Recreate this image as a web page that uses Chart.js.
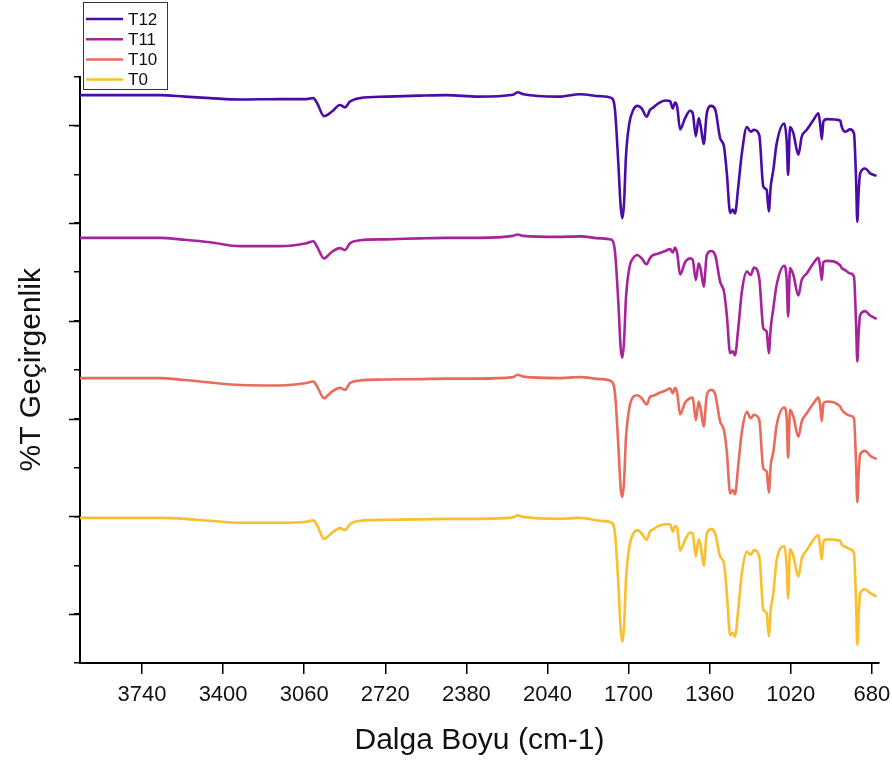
<!DOCTYPE html>
<html>
<head>
<meta charset="utf-8">
<title>FTIR</title>
<script src="https://cdn.jsdelivr.net/npm/chart.js@4.4.1/dist/chart.umd.min.js"></script>
<style>
  html, body { margin: 0; padding: 0; background: #fff; }
  #wrap { width: 892px; height: 763px; }
</style>
</head>
<body>
<div id="wrap"><canvas id="ftirChart" width="892" height="763"></canvas></div>
<script>
// wavenumber (cm-1), shared by all four spectra
const wavenumbers = [
  4000, 3665, 3560, 3455, 3329, 3161, 3050, 3022, 3005, 2977,
  2945, 2910, 2889, 2868, 2826, 2714, 2574, 2462, 2331, 2184,
  2166, 2141, 1996, 1903, 1820,
  1771, 1757, 1743, 1733, 1726, 1719, 1711, 1697, 1680, 1663,
  1645, 1624, 1610, 1596, 1575, 1547, 1526, 1515, 1505, 1496,
  1484, 1463, 1442, 1431, 1418, 1406, 1397, 1385, 1372, 1354,
  1337, 1316, 1300, 1288, 1274, 1263, 1254, 1240, 1225, 1204,
  1188, 1174, 1152, 1135, 1121, 1112, 1104, 1093, 1079, 1047,
  1037, 1031, 1023, 1009, 988, 974, 953, 925, 904, 897,
  890, 883, 869, 813, 806, 792, 771, 755, 746, 741,
  735, 729, 708, 687, 660
];

// %T, stacked (arbitrary units)
const t12 = [
  11.62, 11.62, 11.59, 11.56, 11.53, 11.54, 11.54, 11.56, 11.45, 11.19,
  11.28, 11.42, 11.37, 11.49, 11.56, 11.59, 11.61, 11.62, 11.59, 11.63,
  11.68, 11.64, 11.59, 11.64, 11.60,
  11.56, 11.32, 10.23, 9.34, 9.10, 9.41, 10.36, 11.04, 11.32, 11.40,
  11.35, 11.18, 11.32, 11.37, 11.45, 11.51, 11.50, 11.35, 11.47, 11.38,
  10.92, 11.15, 11.30, 11.25, 10.78, 11.15, 10.97, 10.62, 11.25, 11.40,
  11.33, 10.74, 10.57, 10.02, 9.21, 9.28, 9.20, 9.75, 10.43, 10.97,
  10.87, 10.91, 10.80, 9.75, 9.68, 9.24, 9.75, 10.09, 10.63, 11.04,
  10.67, 9.99, 10.97, 10.84, 10.40, 10.77, 10.91, 11.11, 11.25, 11.04,
  10.72, 11.08, 11.13, 11.10, 10.97, 10.87, 10.92, 10.84, 9.88, 9.03,
  9.68, 10.02, 10.12, 10.02, 9.97
];
const t11 = [
  8.70, 8.70, 8.66, 8.61, 8.53, 8.53, 8.59, 8.63, 8.51, 8.28,
  8.41, 8.49, 8.45, 8.59, 8.65, 8.67, 8.69, 8.70, 8.70, 8.74,
  8.77, 8.74, 8.72, 8.73, 8.69,
  8.66, 8.42, 7.39, 6.44, 6.25, 6.58, 7.46, 8.08, 8.29, 8.35,
  8.28, 8.16, 8.29, 8.35, 8.38, 8.43, 8.47, 8.40, 8.50, 8.38,
  7.95, 8.20, 8.28, 8.25, 7.84, 8.18, 8.04, 7.70, 8.35, 8.43,
  8.35, 7.80, 7.60, 7.12, 6.34, 6.38, 6.30, 6.85, 7.60, 8.01,
  7.94, 8.09, 7.87, 6.85, 6.78, 6.34, 6.85, 7.26, 7.74, 8.13,
  7.84, 7.09, 8.08, 7.94, 7.52, 7.84, 7.97, 8.18, 8.29, 8.11,
  7.84, 8.20, 8.23, 8.14, 8.08, 8.04, 7.97, 7.91, 6.92, 6.17,
  6.78, 7.12, 7.20, 7.11, 7.04
];
const t10 = [
  5.83, 5.83, 5.79, 5.74, 5.69, 5.68, 5.73, 5.76, 5.65, 5.42,
  5.55, 5.63, 5.59, 5.73, 5.78, 5.80, 5.81, 5.82, 5.82, 5.85,
  5.90, 5.86, 5.83, 5.85, 5.81,
  5.76, 5.52, 4.46, 3.57, 3.40, 3.71, 4.60, 5.21, 5.45, 5.48,
  5.42, 5.29, 5.45, 5.47, 5.52, 5.57, 5.62, 5.52, 5.63, 5.52,
  5.09, 5.33, 5.42, 5.43, 4.97, 5.35, 5.18, 4.84, 5.48, 5.59,
  5.50, 4.94, 4.77, 4.32, 3.47, 3.54, 3.45, 4.05, 4.73, 5.14,
  5.01, 5.08, 4.97, 3.98, 3.92, 3.49, 4.05, 4.32, 4.87, 5.23,
  5.01, 4.20, 5.18, 5.04, 4.63, 4.94, 5.11, 5.31, 5.43, 5.28,
  4.95, 5.31, 5.35, 5.25, 5.18, 5.11, 5.06, 5.01, 4.05, 3.29,
  3.92, 4.27, 4.34, 4.24, 4.17
];
const t0 = [
  2.97, 2.97, 2.95, 2.91, 2.87, 2.87, 2.89, 2.92, 2.81, 2.54,
  2.66, 2.76, 2.72, 2.84, 2.91, 2.93, 2.94, 2.95, 2.95, 2.98,
  3.02, 2.99, 2.95, 2.97, 2.91,
  2.87, 2.65, 1.63, 0.68, 0.44, 0.74, 1.70, 2.38, 2.65, 2.72,
  2.65, 2.52, 2.69, 2.74, 2.80, 2.84, 2.84, 2.69, 2.80, 2.76,
  2.30, 2.52, 2.67, 2.65, 2.18, 2.53, 2.38, 1.99, 2.65, 2.74,
  2.65, 2.18, 2.04, 1.43, 0.57, 0.62, 0.54, 1.09, 1.84, 2.28,
  2.21, 2.31, 2.18, 1.09, 1.02, 0.55, 1.09, 1.43, 2.11, 2.39,
  1.97, 1.32, 2.33, 2.18, 1.77, 2.14, 2.31, 2.52, 2.62, 2.38,
  2.12, 2.48, 2.53, 2.50, 2.42, 2.38, 2.33, 2.24, 1.22, 0.37,
  1.02, 1.43, 1.51, 1.43, 1.36
];

const seriesNames = ['T12', 'T11', 'T10', 'T0'];
const seriesColors = ['#4b0ba5', '#a6239a', '#e86b5b', '#fcbe2c'];
const xTickLabels = [3740, 3400, 3060, 2720, 2380, 2040, 1700, 1360, 1020, 680];
const yTickValues = [0, 1, 2, 3, 4, 5, 6, 7, 8, 9, 10, 11, 12];

function toPoints(values) {
  return wavenumbers.map((w, i) => ({ x: w, y: values[i] }));
}

// long ticks on odd values, short ones come from the scale itself
const longTicks = {
  id: 'longTicks',
  afterDraw(chart) {
    const ctx = chart.ctx;
    const y = chart.scales.y;
    const x0 = chart.chartArea.left;
    ctx.save();
    ctx.strokeStyle = '#000';
    ctx.lineWidth = 1.5;
    yTickValues.filter(v => v % 2 === 1).forEach(v => {
      const py = Math.round(y.getPixelForValue(v)) + 0.5;
      ctx.beginPath();
      ctx.moveTo(x0 - 11, py);
      ctx.lineTo(x0, py);
      ctx.stroke();
    });
    ctx.restore();
  }
};

// boxed legend in the upper left corner
const boxLegend = {
  id: 'boxLegend',
  afterDraw(chart) {
    const ctx = chart.ctx;
    ctx.save();
    ctx.fillStyle = '#fff';
    ctx.fillRect(83.5, 2.5, 84, 87);
    ctx.strokeStyle = '#333';
    ctx.lineWidth = 1;
    ctx.strokeRect(83.5, 2.5, 84, 87);
    ctx.font = '17px "Liberation Sans", Arial, sans-serif';
    ctx.textBaseline = 'middle';
    chart.data.datasets.forEach((ds, i) => {
      const ry = 19 + i * 20.2;
      ctx.strokeStyle = ds.borderColor;
      ctx.lineWidth = 2.5;
      ctx.beginPath();
      ctx.moveTo(86, ry);
      ctx.lineTo(123, ry);
      ctx.stroke();
      ctx.fillStyle = '#111';
      ctx.fillText(ds.label, 128, ry + 1);
    });
    ctx.restore();
  }
};

const datasets = [t12, t11, t10, t0].map((vals, i) => ({
  label: seriesNames[i],
  data: toPoints(vals),
  borderColor: seriesColors[i],
  backgroundColor: seriesColors[i],
  borderWidth: 2.6,
  pointRadius: 0,
  showLine: true,
  fill: false,
  cubicInterpolationMode: 'monotone'
}));

const ctx = document.getElementById('ftirChart').getContext('2d');
const ftirChart = new Chart(ctx, {
  type: 'scatter',
  data: { datasets: datasets },
  options: {
    responsive: false,
    animation: false,
    layout: { padding: { left: 0, top: 76.6, right: 13, bottom: 4 } },
    plugins: {
      legend: { display: false },
      tooltip: { enabled: false }
    },
    scales: {
      x: {
        type: 'linear',
        reverse: true,
        min: 650,
        max: 4000,
        afterBuildTicks: (scale) => {
          scale.ticks = xTickLabels.map(v => ({ value: v }));
        },
        afterFit: (scale) => {
          scale.height = 96;
          // keep the plot edge fixed, the last label may overhang
          scale.paddingLeft = 0;
          scale.paddingRight = 0;
        },
        ticks: {
          autoSkip: false,
          maxRotation: 0,
          padding: 8,
          color: '#111',
          font: { family: '"Liberation Sans Narrow", "Liberation Sans", Arial', size: 22 },
          callback: (v) => String(v)
        },
        grid: { drawOnChartArea: false, drawTicks: true, tickLength: 11, color: '#000', lineWidth: 1.5 },
        border: { display: true, color: '#000', width: 2 },
        title: {
          display: true,
          text: 'Dalga Boyu (cm-1)',
          color: '#111',
          font: { family: '"Liberation Sans", Arial', size: 30 },
          padding: { top: 0, bottom: 0 }
        }
      },
      y: {
        type: 'linear',
        min: 0,
        max: 12,
        afterBuildTicks: (scale) => {
          scale.ticks = yTickValues.map(v => ({ value: v }));
        },
        afterFit: (scale) => { scale.width = 80; },
        ticks: { display: false },
        grid: { drawOnChartArea: false, drawTicks: true, tickLength: 6, color: '#000', lineWidth: 1.5 },
        border: { display: true, color: '#000', width: 2 },
        title: {
          display: true,
          text: '%T Geçirgenlik',
          color: '#111',
          font: { family: '"Liberation Sans", Arial', size: 30 },
          padding: { top: 14, bottom: 0 }
        }
      }
    }
  },
  plugins: [longTicks, boxLegend]
});
</script>
</body>
</html>
